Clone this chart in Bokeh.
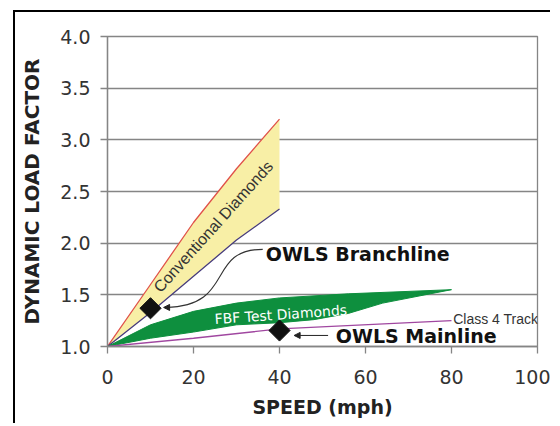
import math
from bokeh.plotting import figure
from bokeh.models import Range1d, Label, Arrow, NormalHead, FixedTicker
from bokeh.embed import file_html
from bokeh.resources import INLINE

# ---------------- data ----------------
speed_conv = [0, 10, 20, 30, 40]
conv_upper = [1.0, 1.60, 2.20, 2.72, 3.20]
conv_lower = [1.0, 1.33, 1.68, 2.03, 2.33]

fbf_upper_speed = [0, 10, 20, 30, 40, 56, 80]
fbf_upper = [1.0, 1.21, 1.34, 1.42, 1.47, 1.51, 1.55]
fbf_lower_speed = [80, 64, 56, 48, 40, 30, 20, 10, 0]
fbf_lower = [1.55, 1.42, 1.32, 1.26, 1.23, 1.21, 1.14, 1.08, 1.0]

class4_speed = [0, 20, 40, 80]
class4_dlf = [1.0, 1.08, 1.17, 1.25]

owls_speed = [10, 40]
owls_dlf = [1.37, 1.155]

x_ticks = [0, 20, 40, 60, 80, 100]
y_ticks = [1.0, 1.5, 2.0, 2.5, 3.0, 3.5, 4.0]
y_tick_labels = ["1.0", "1.5", "2.0", "2.5", "3.0", "3.5", "4.0"]

# ---------------- figure ----------------
GRAY = "#858585"
p = figure(width=537, height=413, x_range=Range1d(0, 100), y_range=Range1d(1, 4),
           output_backend="svg", toolbar_location=None,
           min_border_left=92, min_border_right=15, min_border_top=24, min_border_bottom=79)
p.styles = {"border-left": "2px solid black", "border-top": "2px solid black",
            "margin-left": "13px", "margin-top": "10px"}
p.background_fill_color = "white"
p.border_fill_color = "white"
p.outline_line_color = GRAY
p.outline_line_width = 1.3
p.xgrid.visible = False
p.ygrid.grid_line_color = GRAY
p.ygrid.grid_line_width = 1.3

p.xaxis.ticker = FixedTicker(ticks=x_ticks)
p.yaxis.ticker = FixedTicker(ticks=y_ticks)
p.yaxis.major_label_overrides = {t: s for t, s in zip(y_ticks, y_tick_labels)}
for ax in (p.xaxis, p.yaxis):
    ax.axis_line_color = GRAY
    ax.axis_line_width = 1.3
    ax.major_tick_line_color = GRAY
    ax.major_tick_line_width = 1.3
    ax.major_tick_out = 7
    ax.major_tick_in = 0
    ax.minor_tick_line_color = None
    ax.major_label_text_font = "DejaVu Sans"
    ax.major_label_text_font_size = "19px"
    ax.major_label_text_color = "#333333"
    ax.axis_label_text_font = "DejaVu Sans"
    ax.axis_label_text_font_style = "bold"
    ax.axis_label_text_font_size = "19px"
    ax.axis_label_text_color = "#222222"

p.xaxis.axis_label = "SPEED (mph)"
p.yaxis.axis_label = "DYNAMIC LOAD FACTOR"
p.yaxis.axis_label_text_font_size = "20px"
p.yaxis.major_label_standoff = 10
p.yaxis.axis_label_standoff = 13
p.xaxis.major_label_standoff = 16
p.xaxis.axis_label_standoff = 9

# ---------------- marks ----------------
p.varea(x=speed_conv, y1=conv_lower, y2=conv_upper, fill_color="#f8efa6")
p.line(speed_conv, conv_upper, line_color="#e0524a", line_width=1.3)
p.line(speed_conv, conv_lower, line_color="#473c7d", line_width=1.3)

p.patch(fbf_upper_speed + fbf_lower_speed, fbf_upper + fbf_lower,
        fill_color="#0e8f3e", line_color="#0e8f3e", line_width=1)
p.line(class4_speed, class4_dlf, line_color="#a047a0", line_width=1.3)

p.scatter(owls_speed, owls_dlf, marker="square", angle=math.pi / 4, size=15,
          fill_color="#111111", line_color="#111111")

# ---------------- annotations ----------------
p.bezier(x0=[36.1], y0=[1.94], x1=[13.6], y1=[1.378], cx0=[22.8], cy0=[1.94],
         cx1=[29.8], cy1=[1.39], line_color="#333333", line_width=1.1)
p.add_layout(Arrow(end=NormalHead(size=6, fill_color="#222222", line_color="#222222"),
                   x_start=14.5, y_start=1.378, x_end=13.05, y_end=1.378,
                   line_color="#222222", line_width=1))
p.add_layout(Arrow(end=NormalHead(size=6, fill_color="#222222", line_color="#222222"),
                   x_start=51.3, y_start=1.107, x_end=43.4, y_end=1.107,
                   line_color="#222222", line_width=1))

def lab(x, y, text, font, size, style="normal", color="#111111", angle=0.0,
        align="left", baseline="middle"):
    p.add_layout(Label(x=x, y=y, text=text, text_font=font, text_font_size=size,
                       text_font_style=style, text_color=color, angle=angle,
                       text_align=align, text_baseline=baseline))

lab(36.8, 1.90, "OWLS Branchline", "DejaVu Sans", "19px", "bold")
lab(53.1, 1.10, "OWLS Mainline", "DejaVu Sans", "19px", "bold")
lab(80.4, 1.265, "Class 4 Track", "Liberation Sans", "14px", color="#333333")
lab(40.3, 1.31, "FBF Test Diamonds", "DejaVu Sans", "14px", color="white",
    angle=0.07, align="center")
lab(24.6, 2.16, "Conventional Diamonds", "Liberation Sans", "16px", color="#333333",
    angle=0.84, align="center")
lab(102.1, 3.865, "2779-D", "DejaVu Sans", "7px", color="#777777",
    angle=math.pi / 2, align="center")

open("out.html", "w").write(file_html(p, INLINE))
